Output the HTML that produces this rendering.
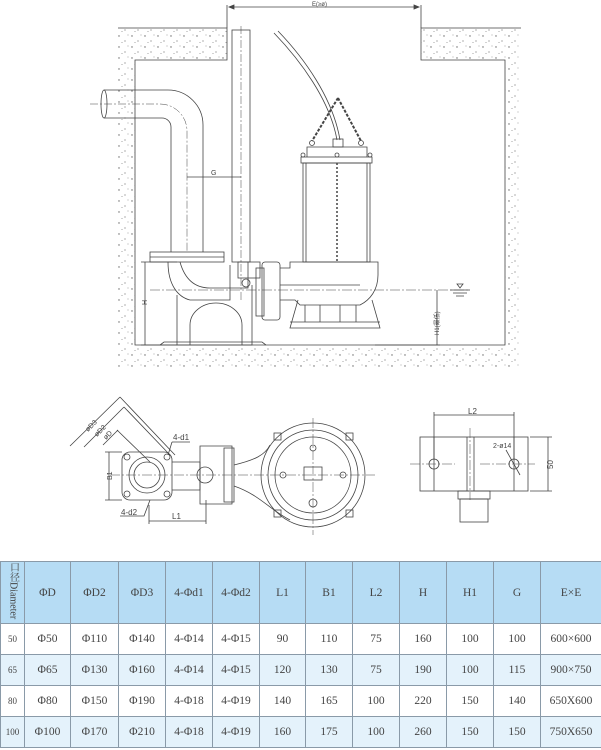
<!DOCTYPE html>
<html><head><meta charset="utf-8"><style>
html,body{margin:0;padding:0;background:#fff;}
body{width:601px;height:750px;position:relative;overflow:hidden;font-family:"Liberation Serif","Noto Serif CJK SC",serif;}
svg{position:absolute;left:0;top:0;}
table{position:absolute;left:0;top:561px;width:601px;border-collapse:collapse;table-layout:fixed;font-size:11.5px;color:#444;}
td{border:1px solid #8a9aa8;text-align:center;padding:0;}
tr.h td{background:#b6dcf4;height:61px;}
tr.r td{height:30px;}
tr.a td{background:#fff;}
tr.b td{background:#e4f2fb;}
.v{writing-mode:vertical-rl;font-size:10px;line-height:12px;}
</style></head><body>
<svg width="601" height="560" viewBox="0 0 601 560" fill="none" stroke="#444" stroke-width="0.8">
<defs>
<pattern id="dots" width="13" height="11" patternUnits="userSpaceOnUse">
<circle cx="2" cy="3" r="0.7" fill="#666" stroke="none"/><circle cx="8" cy="8" r="0.6" fill="#777" stroke="none"/><circle cx="11" cy="2" r="0.5" fill="#888" stroke="none"/><circle cx="5" cy="9.5" r="0.5" fill="#888" stroke="none"/>
</pattern>
</defs>
<path d="M118 28 H227 V60 H135 V345 H505 V60 H421 V28 H521 V370 H118 Z" fill="url(#dots)" stroke="none"/>
<path d="M118 28 H227 V60 H135 V345 H505 V60 H421 V28 H521"/>
<path d="M227 5 V28 M421 5 V28"/>
<path d="M229 7 H419" /><path d="M229 7 l5 -2 v4 z M419 7 l-5 -2 v4 z" fill="#444"/>
<text x="312" y="6" font-size="6" fill="#444" stroke="none" font-family="Liberation Sans">E(≥ø)</text>
<path d="M160 345 l4 -3 H262 l4 3" />
<path d="M104 90 H168 A35 35 0 0 1 203 125 V252 M104 118 H162 A9 9 0 0 1 171 127 V252"/>
<ellipse cx="104" cy="104" rx="3" ry="14"/>
<path d="M90 104 H160 A27 27 0 0 1 187 131 V252" stroke-dasharray="8 2 2 2" stroke-width="0.5"/>
<rect x="232" y="30" width="18" height="232"/>
<path d="M241 26 V300" stroke-dasharray="8 2 2 2" stroke-width="0.5"/>
<path d="M187 177 H241"/><text x="211" y="175" font-size="7" fill="#444" stroke="none" font-family="Liberation Sans">G</text>
<rect x="150" y="252" width="74" height="10"/><path d="M150 257 H224"/>
<path d="M168 262 C168 285 178 297 190 300 H230 V265 M180 262 C185 280 195 288 210 288 H248 V262"/>
<path d="M177 295 V345 H252 V285"/>
<path d="M190 345 V325 A26 22 0 0 1 242 325 V345"/>
<rect x="238" y="262" width="22" height="16"/><circle cx="246" cy="283" r="4"/>
<rect x="262" y="262" width="18" height="58" rx="3"/><rect x="256" y="268" width="8" height="48"/>
<path d="M280 268 H290 V262 H378 V275 C378 290 370 300 360 305 H300 L295 300 H280"/>
<path d="M280 285 H360"/>
<path d="M298 300 L290 328 H380 L372 300"/>
<path d="M290 322 H380 M305 305 V322 M320 305 V322 M340 305 V322 M356 305 V322"/>
<rect x="303" y="163" width="67" height="99"/>
<path d="M306 163 V262 M367 163 V262"/>
<rect x="301" y="157" width="71" height="6"/>
<path d="M307 157 V147 H367 V157"/>
<path d="M337 163 V262" stroke-width="1.5" stroke-dasharray="2 2"/>
<path d="M338 98 L312 141 M338 98 L361 141" stroke-width="2" stroke-dasharray="3 1.5"/>
<path d="M274 33 C300 60 330 100 337 140 M278 31 C304 58 333 98 340 140"/>
<rect x="333" y="139" width="10" height="8"/>
<circle cx="312" cy="143" r="2.5"/><circle cx="361" cy="143" r="2.5"/>
<circle cx="303" cy="155" r="2"/><circle cx="337" cy="155" r="2"/><circle cx="370" cy="155" r="2"/>
<path d="M150 290 H470" stroke-dasharray="10 2 2 2" stroke-width="0.5"/>
<path d="M450 290 H470 M453 293 H467 M456 296 H464"/><path d="M457 284 l3 4 l3 -4 z"/>
<path d="M145 262 V345 M141 262 H177 M141 345 H177"/>
<text x="147" y="305" font-size="7" fill="#444" stroke="none" transform="rotate(-90 147 305)" font-family="Liberation Sans">H</text>
<path d="M437 290 V345 M375 345 H440"/>
<text x="439" y="335" font-size="6" fill="#444" stroke="none" transform="rotate(-90 439 335)" font-family="Liberation Sans">H1(最低)</text>
<g>
<rect x="122" y="452" width="50" height="48" rx="8"/>
<circle cx="147" cy="475" r="18"/><circle cx="147" cy="475" r="13"/>
<circle cx="127" cy="457" r="3"/><circle cx="167" cy="457" r="3"/><circle cx="127" cy="494" r="3"/><circle cx="167" cy="494" r="3"/>
<path d="M172 462 H200 V490 H172"/>
<path d="M200 446 H232 V504 H200 Z"/><circle cx="205" cy="475" r="8"/>
<rect x="224" y="448" width="10" height="54"/>
<path d="M234 465 C255 460 265 455 270 445 M234 486 C260 495 270 510 290 520"/>
<circle cx="313" cy="475" r="52"/><circle cx="313" cy="475" r="45"/><circle cx="313" cy="475" r="38"/>
<rect x="304" y="467" width="18" height="13"/>
<circle cx="313" cy="448" r="3"/><circle cx="313" cy="503" r="4"/>
<circle cx="283" cy="475" r="3"/><circle cx="343" cy="475" r="3"/>
<rect x="274" y="433" width="7" height="7"/><rect x="346" y="433" width="7" height="7"/><rect x="274" y="510" width="7" height="7"/><rect x="346" y="510" width="7" height="7"/>
<path d="M110 475 H375 M313 418 H313 V535" stroke-dasharray="10 2 2 2" stroke-width="0.5"/>
<path d="M109 452 V500 M105 452 H122 M105 500 H122"/>
<text x="112" y="480" font-size="7" fill="#444" stroke="none" transform="rotate(-90 112 480)" font-family="Liberation Sans">B1</text>
<path d="M149 521 H206 M149 505 V524 M206 500 V524"/>
<text x="172" y="519" font-size="8" fill="#444" stroke="none" font-family="Liberation Sans">L1</text>
<path d="M70 446 L120 397 M84 447 L124 407 M103 445 L118 430 M120 397 L175 455 M124 407 L170 455 M117 430 L150 462"/>
<text x="88" y="432" font-size="7" fill="#444" stroke="none" transform="rotate(-45 88 432)" font-family="Liberation Sans">øD3</text>
<text x="97" y="437" font-size="7" fill="#444" stroke="none" transform="rotate(-45 97 437)" font-family="Liberation Sans">øD2</text>
<text x="106" y="440" font-size="7" fill="#444" stroke="none" transform="rotate(-45 106 440)" font-family="Liberation Sans">øD</text>
<text x="173" y="440" font-size="8" fill="#444" stroke="none" font-family="Liberation Sans">4-d1</text>
<path d="M172 442 H190 M172 442 L168 455"/>
<text x="121" y="515" font-size="8" fill="#444" stroke="none" font-family="Liberation Sans">4-d2</text>
<path d="M120 516 H144 L150 500"/>
</g>
<rect x="420" y="437" width="108" height="54"/>
<path d="M434 437 V491 M514 437 V491 M467 437 V491 M474 437 V491"/>
<rect x="458" y="491" width="32" height="8"/><rect x="460" y="499" width="28" height="23"/>
<circle cx="434" cy="464" r="5"/><circle cx="514" cy="464" r="5"/>
<path d="M410 464 H455 M480 464 H535 M470 428 V500" stroke-dasharray="10 2 2 2" stroke-width="0.5"/>
<path d="M434 415 H514 M434 412 V460 M514 412 V460"/>
<text x="468" y="414" font-size="8" fill="#444" stroke="none" font-family="Liberation Sans">L2</text>
<path d="M548 437 V491 M530 437 H552 M530 491 H552"/>
<text x="553" y="469" font-size="8" fill="#444" stroke="none" transform="rotate(-90 553 469)" font-family="Liberation Sans">50</text>
<text x="493" y="448" font-size="7" fill="#444" stroke="none" font-family="Liberation Sans">2-ø14</text>
<path d="M506 450 L520 475"/>
</svg>
<table>
<colgroup><col style="width:24px"><col style="width:46px"><col style="width:48px"><col style="width:47px"><col style="width:47px"><col style="width:47px"><col style="width:46px"><col style="width:47px"><col style="width:47px"><col style="width:47px"><col style="width:47px"><col style="width:47px"><col style="width:61px"></colgroup>
<tr class="h"><td><span class="v">口径Diameter</span></td><td>ΦD</td><td>ΦD2</td><td>ΦD3</td><td>4-Φd1</td><td>4-Φd2</td><td>L1</td><td>B1</td><td>L2</td><td>H</td><td>H1</td><td>G</td><td>E×E</td></tr>
<tr class="r a"><td style="font-size:9px">50</td><td>Φ50</td><td>Φ110</td><td>Φ140</td><td>4-Φ14</td><td>4-Φ15</td><td>90</td><td>110</td><td>75</td><td>160</td><td>100</td><td>100</td><td>600×600</td></tr>
<tr class="r b"><td style="font-size:9px">65</td><td>Φ65</td><td>Φ130</td><td>Φ160</td><td>4-Φ14</td><td>4-Φ15</td><td>120</td><td>130</td><td>75</td><td>190</td><td>100</td><td>115</td><td>900×750</td></tr>
<tr class="r a"><td style="font-size:9px">80</td><td>Φ80</td><td>Φ150</td><td>Φ190</td><td>4-Φ18</td><td>4-Φ19</td><td>140</td><td>165</td><td>100</td><td>220</td><td>150</td><td>140</td><td>650X600</td></tr>
<tr class="r b"><td style="font-size:9px">100</td><td>Φ100</td><td>Φ170</td><td>Φ210</td><td>4-Φ18</td><td>4-Φ19</td><td>160</td><td>175</td><td>100</td><td>260</td><td>150</td><td>150</td><td>750X650</td></tr>
</table>
</body></html>
